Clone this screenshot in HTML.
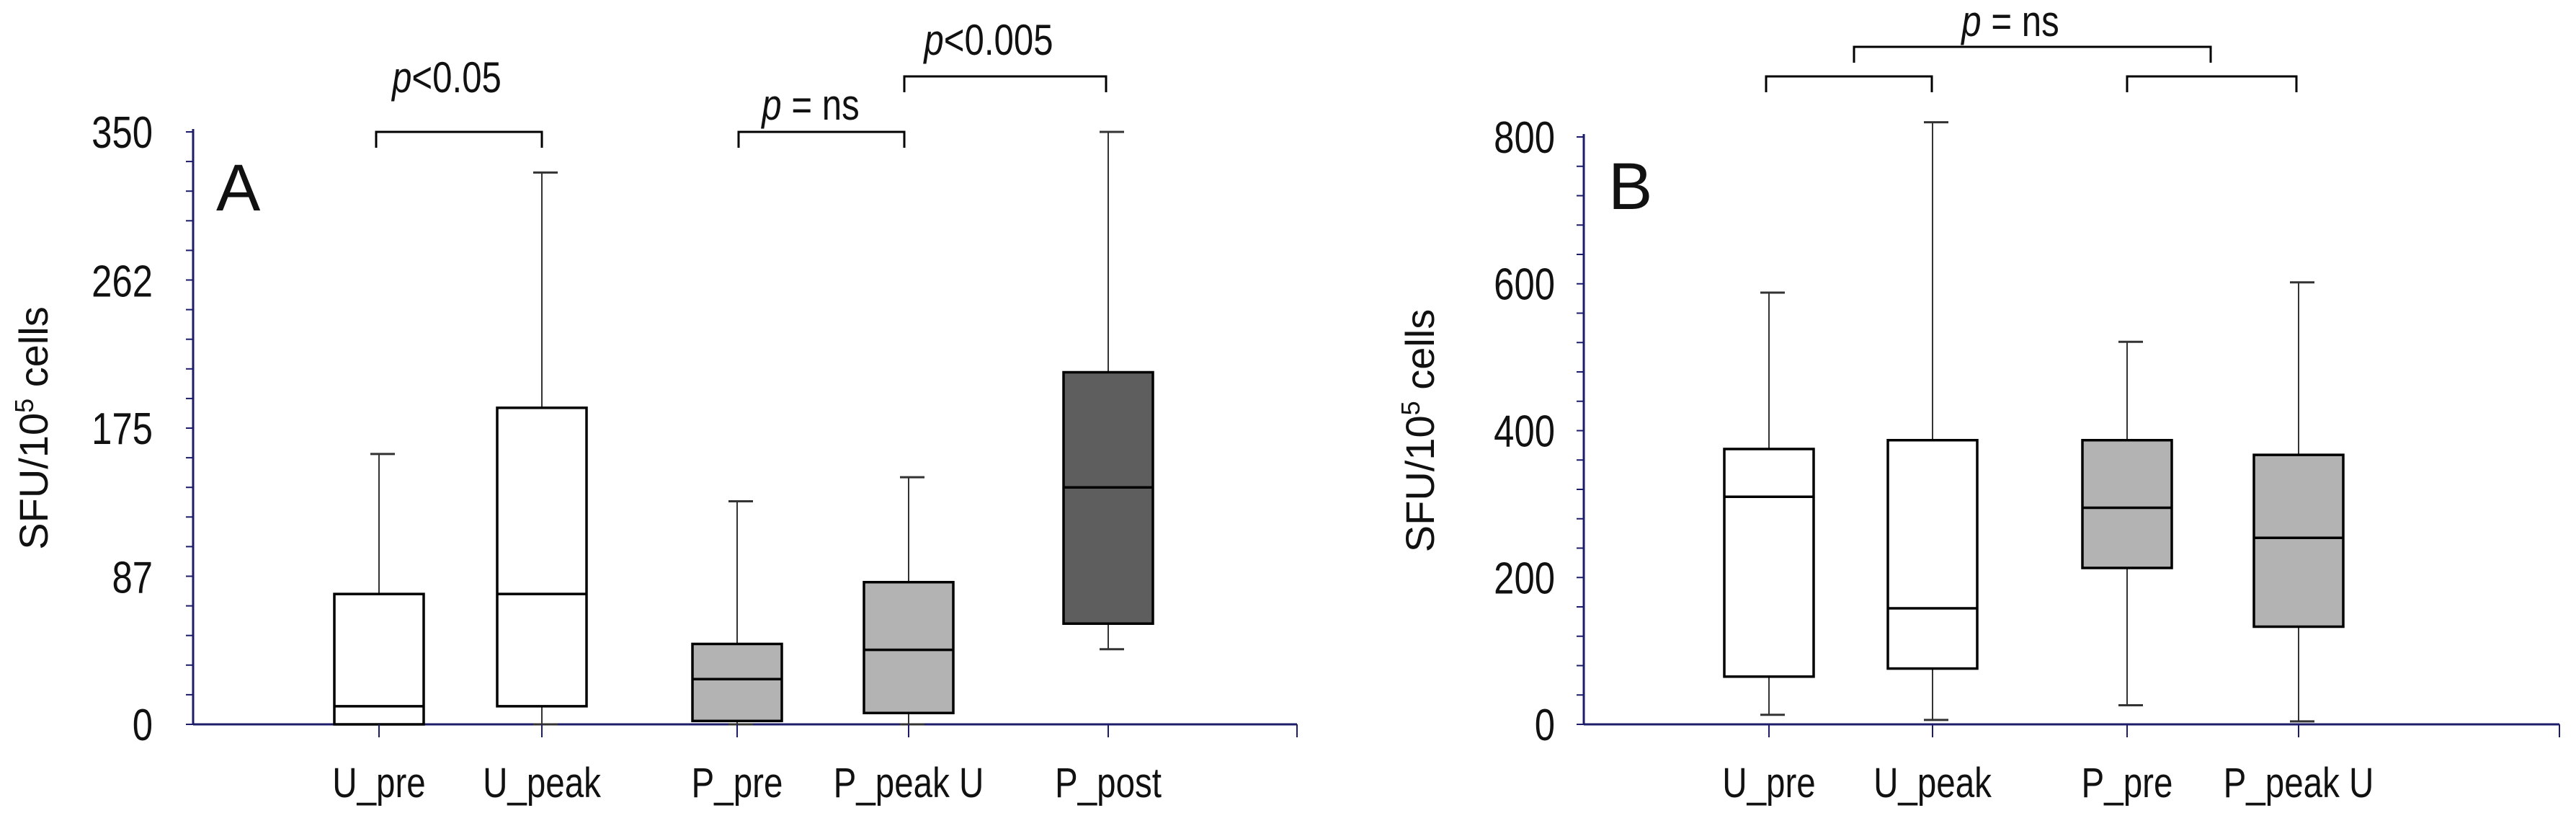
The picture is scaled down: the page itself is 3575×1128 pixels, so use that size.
<!DOCTYPE html>
<html><head><meta charset="utf-8"><style>
html,body{margin:0;padding:0;background:#fff;}
svg{display:block;}
text{font-family:"Liberation Sans Narrow","Liberation Sans",sans-serif;fill:#111;}
</style></head><body>
<svg id="c" width="3575" height="1128" viewBox="0 0 3575 1128" xmlns="http://www.w3.org/2000/svg"></svg>
<script>
// Panel A data
const catsA = ["U_pre","U_peak","P_pre","P_peak U","P_post"];
const lowA  = [0, 0, 0, 0, 44.4];
const q1A   = [0, 10.7, 2, 6.7, 59.5];
const medA  = [10.7, 77, 26.7, 44, 140];
const q3A   = [77, 187, 47.5, 84, 208];
const highA = [159.7, 326, 131.8, 146, 350];
const ticksA = [0, 87, 175, 262, 350];
// Panel B data
const catsB = ["U_pre","U_peak","P_pre","P_peak U"];
const lowB  = [13, 6, 26, 4];
const q1B   = [65, 76, 213, 133];
const medB  = [310, 158, 295, 254];
const q3B   = [375, 387, 387, 367];
const highB = [588, 820, 521, 602];
const ticksB = [0, 200, 400, 600, 800];

const svg = document.getElementById('c');
const NS = 'http://www.w3.org/2000/svg';
function mk(tag, attrs, name){
  const e = document.createElementNS(NS, tag);
  for (const k in attrs) e.setAttribute(k, attrs[k]);
  
  
  svg.appendChild(e);
  return e;
}
function txt(x, y, s, size, anchor, sx, name){
  const t = mk('text', {x: x/sx, y: y, 'font-size': size, 'text-anchor': anchor, transform: 'scale(' + sx + ',1)'}, name);
  t.textContent = s;
  return t;
}
const AX = '#1c1c6b';

function panel(o){
  const y = v => o.y0 - (v - o.vmin) / (o.vmax - o.vmin) * (o.y0 - o.y1);
  mk('line', {x1:o.ax, y1:o.y1-4, x2:o.ax, y2:o.y0, stroke:AX, 'stroke-width':3}, o.p+'-y-axis');
  mk('line', {x1:o.ax, y1:o.y0, x2:o.axEnd, y2:o.y0, stroke:AX, 'stroke-width':3}, o.p+'-x-axis');
  mk('line', {x1:o.axEnd, y1:o.y0, x2:o.axEnd, y2:o.y0+18, stroke:AX, 'stroke-width':2}, o.p+'-x-axis-end-tick');
  const step = (o.vmax - o.vmin) / (o.ticks.length - 1) / 5;
  for (let i = 0; i <= (o.ticks.length - 1) * 5; i++){
    const yy = y(o.vmin + i * step);
    mk('line', {x1:o.ax-10, y1:yy, x2:o.ax, y2:yy, stroke:AX, 'stroke-width':2}, o.p+'-y-tick');
  }
  o.ticks.forEach(v => {
    txt(o.ax - o.labGap, y(v) + 22, String(v), 62, 'end', 0.82, o.p+'-y-tick-label');
  });
  const tt = mk('text', {x:0, y:0, 'font-size':56, 'text-anchor':'middle', transform:'translate(' + o.titleX + ',' + ((o.y0+o.y1)/2) + ') rotate(-90)', style:'font-family:"Liberation Sans",sans-serif'}, o.p+'-y-axis-title');
  tt.innerHTML = 'SFU/10<tspan dy="-20" font-size="36">5</tspan><tspan dy="20"> cells</tspan>';
  const L = mk('text', {x:o.letterX, y:o.letterY, 'font-size':92, style:'font-family:"Liberation Sans",sans-serif'}, o.p+'-panel-label');
  L.textContent = o.letter;
  o.cats.forEach((c, i) => {
    const cx = o.xs[i], w = 124, h = w / 2;
    mk('line', {x1:cx, y1:y(o.high[i]), x2:cx, y2:y(o.q3[i]), stroke:'#333', 'stroke-width':2}, o.p+'-whisker-upper');
    mk('line', {x1:cx, y1:y(o.q1[i]), x2:cx, y2:y(o.low[i]), stroke:'#333', 'stroke-width':2}, o.p+'-whisker-lower');
    mk('line', {x1:cx-12, y1:y(o.high[i]), x2:cx+22, y2:y(o.high[i]), stroke:'#333', 'stroke-width':3}, o.p+'-whisker-cap-upper');
    mk('line', {x1:cx-12, y1:y(o.low[i]), x2:cx+22, y2:y(o.low[i]), stroke:'#333', 'stroke-width':3}, o.p+'-whisker-cap-lower');
    mk('rect', {x:cx-h, y:y(o.q3[i]), width:w, height:Math.max(1, y(o.q1[i]) - y(o.q3[i])), fill:o.fills[i], stroke:'#000', 'stroke-width':3.5}, o.p+'-box-'+c.replace(/\s/g,'-').toLowerCase());
    mk('line', {x1:cx-h, y1:y(o.med[i]), x2:cx+h, y2:y(o.med[i]), stroke:'#000', 'stroke-width':3.5}, o.p+'-median-line');
    mk('line', {x1:cx, y1:o.y0, x2:cx, y2:o.y0+18, stroke:AX, 'stroke-width':2}, o.p+'-x-tick');
    txt(cx, 1106, c, 58, 'middle', 0.82, o.p+'-x-tick-label');
  });
  o.brackets.forEach(b => {
    mk('path', {d:'M'+b[0]+','+(b[2]+22)+' V'+b[2]+' H'+b[1]+' V'+(b[2]+22), fill:'none', stroke:'#000', 'stroke-width':3}, o.p+'-significance-bracket');
  });
  o.labels.forEach(l => {
    const t = mk('text', {x:l[0]/0.82, y:l[1], 'font-size':60, 'text-anchor':'middle', transform:'scale(0.82,1)'}, o.p+'-p-value-label');
    t.innerHTML = '<tspan font-style="italic">p</tspan>' + l[2];
  });
}

panel({p:'a', ax:268, axEnd:1800, y0:1005, y1:183, vmin:0, vmax:350, ticks:ticksA, titleX:66, labGap:56,
  letter:'A', letterX:300, letterY:292,
  cats:catsA, low:lowA, q1:q1A, med:medA, q3:q3A, high:highA,
  xs:[526,752,1023,1261,1538], fills:['#fff','#fff','#b3b3b3','#b3b3b3','#5e5e5e'],
  brackets:[[522,752,183],[1025,1255,183],[1255,1535,106]],
  labels:[[620,128,'<0.05'],[1125,166,' = ns'],[1372,76,'<0.005']]});

panel({p:'b', ax:2198, axEnd:3552, y0:1005, y1:190, vmin:0, vmax:800, ticks:ticksB, titleX:1990, labGap:40,
  letter:'B', letterX:2232, letterY:290,
  cats:catsB, low:lowB, q1:q1B, med:medB, q3:q3B, high:highB,
  xs:[2455,2682,2952,3190], fills:['#fff','#fff','#b3b3b3','#b3b3b3'],
  brackets:[[2451,2681,106],[2952,3187,106],[2573,3068,65]],
  labels:[[2790,50,' = ns']]});
</script>
</body></html>
